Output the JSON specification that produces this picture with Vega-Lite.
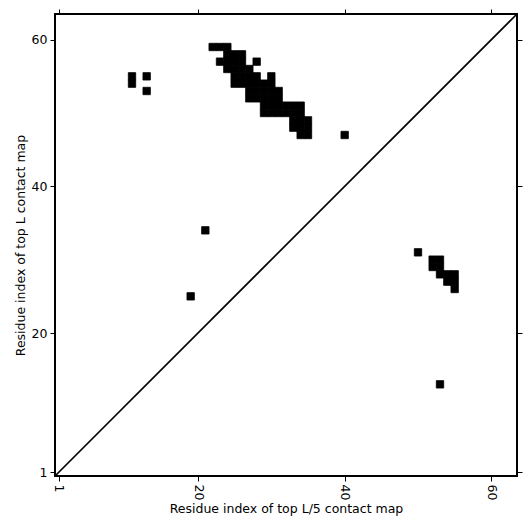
{
  "$schema": "https://vega.github.io/schema/vega-lite/v6.json",
  "width": 462,
  "height": 462,
  "autosize": {"type": "none"},
  "padding": {"left": 55, "top": 14, "right": 14, "bottom": 55},
  "background": "white",
  "config": {
    "view": {"stroke": "black", "strokeWidth": 2},
    "font": "DejaVu Sans",
    "axis": {
      "domain": false,
      "grid": false,
      "ticks": true,
      "tickColor": "black",
      "tickSize": 5,
      "tickWidth": 1,
      "labelColor": "black",
      "labelFont": "DejaVu Sans",
      "labelFontSize": 12.5,
      "labelPadding": 3,
      "titleColor": "black",
      "titleFont": "DejaVu Sans",
      "titleFontSize": 12.5,
      "titleFontWeight": "normal"
    }
  },
  "layer": [
    {
      "data": {
        "values": [
          {"c": 22, "r": 59}, {"c": 23, "r": 59}, {"c": 24, "r": 59},
          {"c": 24, "r": 58}, {"c": 25, "r": 58}, {"c": 26, "r": 58},
          {"c": 23, "r": 57}, {"c": 24, "r": 57}, {"c": 25, "r": 57}, {"c": 26, "r": 57}, {"c": 28, "r": 57},
          {"c": 24, "r": 56}, {"c": 25, "r": 56}, {"c": 26, "r": 56}, {"c": 27, "r": 56},
          {"c": 25, "r": 55}, {"c": 26, "r": 55}, {"c": 27, "r": 55}, {"c": 28, "r": 55}, {"c": 30, "r": 55},
          {"c": 25, "r": 54}, {"c": 26, "r": 54}, {"c": 27, "r": 54}, {"c": 28, "r": 54}, {"c": 29, "r": 54}, {"c": 30, "r": 54},
          {"c": 27, "r": 53}, {"c": 28, "r": 53}, {"c": 29, "r": 53}, {"c": 30, "r": 53}, {"c": 31, "r": 53},
          {"c": 27, "r": 52}, {"c": 28, "r": 52}, {"c": 29, "r": 52}, {"c": 30, "r": 52}, {"c": 31, "r": 52},
          {"c": 29, "r": 51}, {"c": 30, "r": 51}, {"c": 31, "r": 51}, {"c": 32, "r": 51}, {"c": 33, "r": 51}, {"c": 34, "r": 51},
          {"c": 29, "r": 50}, {"c": 30, "r": 50}, {"c": 31, "r": 50}, {"c": 32, "r": 50}, {"c": 33, "r": 50}, {"c": 34, "r": 50},
          {"c": 33, "r": 49}, {"c": 34, "r": 49}, {"c": 35, "r": 49},
          {"c": 33, "r": 48}, {"c": 34, "r": 48}, {"c": 35, "r": 48},
          {"c": 34, "r": 47}, {"c": 35, "r": 47},
          {"c": 11, "r": 55}, {"c": 11, "r": 54}, {"c": 13, "r": 55}, {"c": 13, "r": 53},
          {"c": 21, "r": 34}, {"c": 19, "r": 25}, {"c": 40, "r": 47},
          {"c": 50, "r": 31},
          {"c": 52, "r": 30}, {"c": 53, "r": 30},
          {"c": 52, "r": 29}, {"c": 53, "r": 29},
          {"c": 53, "r": 28}, {"c": 54, "r": 28}, {"c": 55, "r": 28},
          {"c": 54, "r": 27}, {"c": 55, "r": 27},
          {"c": 55, "r": 26},
          {"c": 53, "r": 13}
        ]
      },
      "mark": {"type": "rect", "width": 7.4, "height": 7.4, "color": "black", "opacity": 1, "stroke": "black", "strokeWidth": 0.8},
      "encoding": {
        "x": {
          "field": "c",
          "type": "quantitative",
          "scale": {"domain": [0.5, 63.5], "nice": false, "zero": false},
          "axis": {
            "orient": "bottom",
            "values": [1, 20, 40, 60],
            "labelAngle": 90,
            "labelAlign": "left",
            "labelBaseline": "middle",
            "title": "Residue index of top L/5 contact map",
            "titlePadding": 3
          }
        },
        "y": {
          "field": "r",
          "type": "quantitative",
          "scale": {"domain": [0.5, 63.5], "nice": false, "zero": false},
          "axis": {
            "orient": "left",
            "values": [1, 20, 40, 60],
            "title": "Residue index of top L contact map",
            "titlePadding": 4
          }
        }
      }
    },
    {
      "data": {"values": [{"p": 0.5, "q": 0.5}, {"p": 63.5, "q": 63.5}]},
      "mark": {"type": "line", "color": "black", "strokeWidth": 1.7},
      "encoding": {
        "x": {
          "field": "p",
          "type": "quantitative",
          "scale": {"domain": [0.5, 63.5], "nice": false, "zero": false},
          "axis": {"orient": "top", "values": [1, 20, 40, 60], "labels": false, "title": null}
        },
        "y": {
          "field": "q",
          "type": "quantitative",
          "scale": {"domain": [0.5, 63.5], "nice": false, "zero": false},
          "axis": {"orient": "right", "values": [1, 20, 40, 60], "labels": false, "title": null}
        }
      }
    }
  ],
  "resolve": {"scale": {"x": "independent", "y": "independent"}}
}
